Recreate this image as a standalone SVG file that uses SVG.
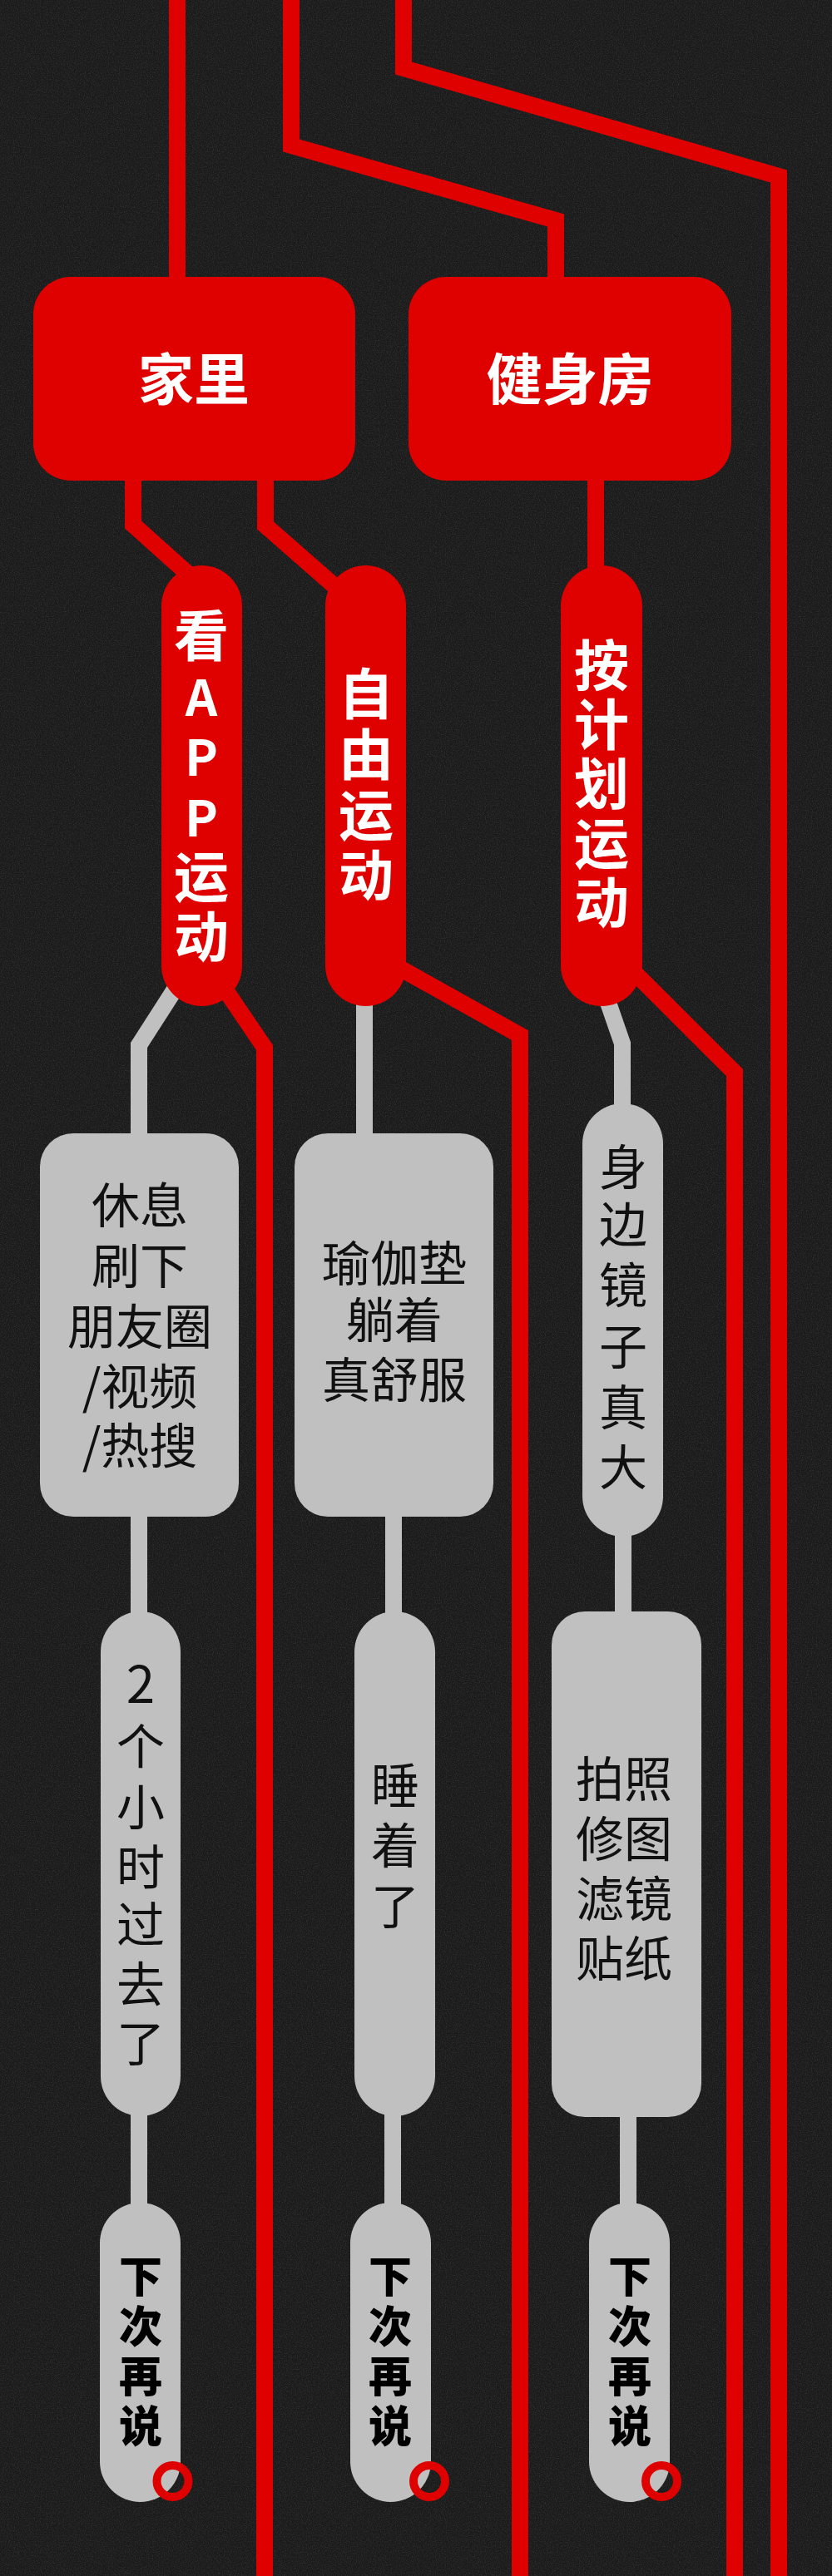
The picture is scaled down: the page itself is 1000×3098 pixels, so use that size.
<svg xmlns="http://www.w3.org/2000/svg" width="1000" height="3098" viewBox="0 0 1000 3098">
<defs>
<style>
.red{fill:#df0000}
.gray{fill:#c0c0c0}
.rl{fill:none;stroke:#df0000;stroke-width:20;stroke-linejoin:miter}
.gl{fill:none;stroke:#c0c0c0;stroke-width:20;stroke-linejoin:miter}
.ring{fill:none;stroke:#df0000;stroke-width:10}
.t{font-family:"Noto Sans CJK SC","Noto Sans",sans-serif;text-anchor:middle}
.big{font-size:67px;font-weight:bold;fill:#ffffff}
.cap{font-size:66px;font-weight:bold;fill:#ffffff}
.lat{font-size:60px;font-weight:bold}
.body{font-size:58px;font-weight:normal;fill:#111111}
.heavy{font-size:52px;font-weight:900;fill:#000000}
</style>
<filter id="grain" x="0" y="0" width="100%" height="100%">
<feTurbulence type="fractalNoise" baseFrequency="0.85" numOctaves="2" seed="4"/>
<feColorMatrix type="matrix" values="0 0 0 0 1 0 0 0 0 1 0 0 0 0 1 0.5 0 0 0 -0.2"/>
</filter>
</defs>
<rect width="1000" height="3098" fill="#1a1a1a"/>
<rect width="1000" height="3098" fill="#000" filter="url(#grain)" opacity="0.45"/>

<g id="connectors">
<polyline class="rl" points="213,0 213,340"/>
<polyline class="rl" points="350,0 350,175 668,265 668,340"/>
<polyline class="rl" points="485,0 485,82 936,212 936,3098"/>
<polyline class="rl" points="160,570 160,631 228,692"/>
<polyline class="rl" points="319,570 319,632 408,710"/>
<polyline class="rl" points="716,570 716,690"/>
<polyline class="rl" points="272,1192 318,1260 318,3098"/>
<polyline class="rl" points="480,1164 625,1245 625,3098"/>
<polyline class="rl" points="757,1164 883,1290 883,3098"/>
<polyline class="gl" points="210,1190 167,1257 167,1370"/>
<polyline class="gl" points="167,1815 167,1945"/>
<polyline class="gl" points="167,2535 167,2655"/>
<polyline class="gl" points="438,1200 438,1370"/>
<polyline class="gl" points="473,1815 473,1945"/>
<polyline class="gl" points="472,2535 472,2655"/>
<polyline class="gl" points="729,1200 748,1255 748,1335"/>
<polyline class="gl" points="749,1840 749,1945"/>
<polyline class="gl" points="755,2535 755,2655"/>
</g>

<g id="node-home">
<rect class="red" x="40" y="333" width="387" height="245" rx="45"/>
<text class="t big" x="233" y="481">家里</text>
</g>
<g id="node-gym">
<rect class="red" x="491" y="333" width="388" height="245" rx="45"/>
<text class="t big" x="685" y="481">健身房</text>
</g>

<g id="node-app">
<rect class="red" x="194" y="680" width="97" height="530" rx="48.5"/>
<text class="t cap"><tspan x="242" y="789">看</tspan><tspan class="lat" x="242" y="861">A</tspan><tspan class="lat" x="242" y="933">P</tspan><tspan class="lat" x="242" y="1006">P</tspan><tspan x="242" y="1079">运</tspan><tspan x="242" y="1151">动</tspan></text>
</g>
<g id="node-free">
<rect class="red" x="391" y="680" width="97" height="530" rx="48.5"/>
<text class="t cap"><tspan x="440" y="859">自</tspan><tspan x="440" y="932">由</tspan><tspan x="440" y="1005">运</tspan><tspan x="440" y="1077">动</tspan></text>
</g>
<g id="node-plan">
<rect class="red" x="674" y="680" width="98" height="530" rx="49"/>
<text class="t cap"><tspan x="723" y="825">按</tspan><tspan x="723" y="896">计</tspan><tspan x="723" y="967">划</tspan><tspan x="723" y="1039">运</tspan><tspan x="723" y="1110">动</tspan></text>
</g>

<g id="node-rest">
<rect class="gray" x="48" y="1363" width="239" height="461" rx="40"/>
<text class="t body"><tspan x="168" y="1471">休息</tspan><tspan x="168" y="1544">刷下</tspan><tspan x="168" y="1617">朋友圈</tspan><tspan x="168" y="1689">/视频</tspan><tspan x="168" y="1760">/热搜</tspan></text>
</g>
<g id="node-yoga">
<rect class="gray" x="354" y="1363" width="239" height="461" rx="40"/>
<text class="t body"><tspan x="474" y="1541">瑜伽垫</tspan><tspan x="474" y="1609">躺着</tspan><tspan x="474" y="1681">真舒服</tspan></text>
</g>
<g id="node-mirror">
<rect class="gray" x="700" y="1327" width="97" height="521" rx="48.5"/>
<text class="t body"><tspan x="749" y="1425">身</tspan><tspan x="749" y="1494">边</tspan><tspan x="749" y="1567">镜</tspan><tspan x="749" y="1641">子</tspan><tspan x="749" y="1714">真</tspan><tspan x="749" y="1786">大</tspan></text>
</g>

<g id="node-hours">
<rect class="gray" x="121" y="1938" width="96" height="607" rx="48"/>
<text class="t body"><tspan x="169" y="2048" font-size="62">2</tspan><tspan x="169" y="2122">个</tspan><tspan x="169" y="2195">小</tspan><tspan x="169" y="2267">时</tspan><tspan x="169" y="2336">过</tspan><tspan x="169" y="2408">去</tspan><tspan x="169" y="2479">了</tspan></text>
</g>
<g id="node-sleep">
<rect class="gray" x="426" y="1938" width="97" height="607" rx="48.5"/>
<text class="t body"><tspan x="475" y="2169">睡</tspan><tspan x="475" y="2241">着</tspan><tspan x="475" y="2314">了</tspan></text>
</g>
<g id="node-photo">
<rect class="gray" x="663" y="1938" width="180" height="608" rx="40"/>
<text class="t body"><tspan x="750" y="2161">拍照</tspan><tspan x="750" y="2233">修图</tspan><tspan x="750" y="2305">滤镜</tspan><tspan x="750" y="2377">贴纸</tspan></text>
</g>

<g id="node-later-1">
<rect class="gray" x="120" y="2649" width="97" height="360" rx="48.5"/>
<text class="t heavy"><tspan x="169" y="2757">下</tspan><tspan x="169" y="2817">次</tspan><tspan x="169" y="2877">再</tspan><tspan x="169" y="2937">说</tspan></text>
<circle class="ring" cx="207.5" cy="2984" r="19"/>
</g>
<g id="node-later-2">
<rect class="gray" x="421" y="2649" width="97" height="360" rx="48.5"/>
<text class="t heavy"><tspan x="469" y="2757">下</tspan><tspan x="469" y="2817">次</tspan><tspan x="469" y="2877">再</tspan><tspan x="469" y="2937">说</tspan></text>
<circle class="ring" cx="516" cy="2984" r="19"/>
</g>
<g id="node-later-3">
<rect class="gray" x="708" y="2649" width="97" height="360" rx="48.5"/>
<text class="t heavy"><tspan x="757" y="2757">下</tspan><tspan x="757" y="2817">次</tspan><tspan x="757" y="2877">再</tspan><tspan x="757" y="2937">说</tspan></text>
<circle class="ring" cx="795" cy="2984" r="19"/>
</g>
</svg>
